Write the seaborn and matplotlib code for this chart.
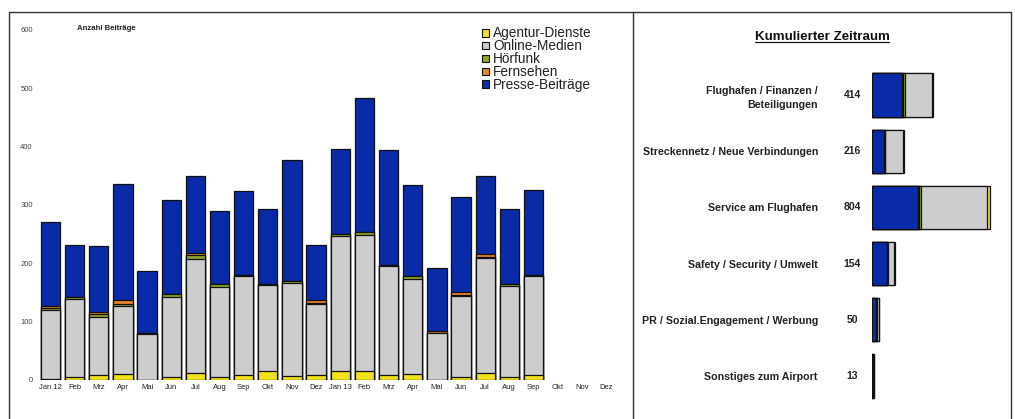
import numpy as np
import pandas as pd
import matplotlib
matplotlib.use("Agg")
import matplotlib.pyplot as plt
from matplotlib.patches import Patch
from matplotlib.lines import Line2D
import seaborn as sns

sns.set_theme(style="white")
plt.rcParams["font.family"] = ["Liberation Sans", "DejaVu Sans"]

# ---- monthly media coverage (Jan 2012 - Dez 2013) ----
month_keys = [f"{m} {y}" for y in (12, 13) for m in
              ["Jan", "Feb", "Mrz", "Apr", "Mai", "Jun", "Jul", "Aug", "Sep", "Okt", "Nov", "Dez"]]
month_labels = ["Jan 12", "Feb", "Mrz", "Apr", "Mai", "Jun", "Jul", "Aug", "Sep", "Okt", "Nov", "Dez",
                "Jan 13", "Feb", "Mrz", "Apr", "Mai", "Jun", "Jul", "Aug", "Sep", "Okt", "Nov", "Dez"]

agentur = [1, 5, 8, 10, 0, 4, 11, 4, 7, 15, 6, 8, 14, 14, 8, 10, 0, 5, 12, 5, 7]
online = [118, 133, 99, 116, 78, 138, 196, 155, 170, 147, 160, 121, 232, 234, 187, 163, 79, 139, 197, 155, 171]
hoerfunk = [4, 3, 5, 3, 2, 4, 6, 5, 2, 2, 3, 3, 4, 6, 1, 5, 1, 1, 2, 4, 2]
fernsehen = [3, 0, 4, 7, 0, 0, 4, 0, 0, 0, 0, 4, 0, 0, 0, 0, 4, 5, 4, 0, 0]
presse = [145, 90, 113, 200, 106, 163, 133, 126, 145, 129, 208, 95, 145, 229, 198, 156, 108, 164, 135, 128, 146]

# ---- cumulated period by topic ----
topics = ["Flughafen / Finanzen /\nBeteiligungen", "Streckennetz / Neue Verbindungen",
          "Service am Flughafen", "Safety / Security / Umwelt",
          "PR / Sozial.Engagement / Werbung", "Sonstiges zum Airport"]
topic_totals = [414, 216, 804, 154, 50, 13]
t_presse = [202, 84, 316, 100, 28, 8]
t_fernsehen = [12, 2, 6, 3, 1, 0]
t_hoerfunk = [14, 2, 9, 4, 2, 0]
t_online = [184, 126, 450, 45, 19, 5]
t_agentur = [2, 2, 23, 2, 0, 0]

series_names = ["Agentur-Dienste", "Online-Medien", "Hörfunk", "Fernsehen", "Presse-Beiträge"]
colors = {
    "Agentur-Dienste": "#f2e21c",
    "Online-Medien": "#cdcdcd",
    "Hörfunk": "#8aa52a",
    "Fernsehen": "#e9842c",
    "Presse-Beiträge": "#0a2aa8",
}

W, H = 1015, 419
fig = plt.figure(figsize=(W / 100, H / 100), dpi=100)
fig.patch.set_facecolor("white")


def fx(px):
    return px / W


def fy(py):
    return 1 - py / H


# ---------- left: stacked monthly columns ----------
ax = fig.add_axes([fx(38.4), fy(379.5), fx(579.6), 349.5 / H])
n = len(presse)
stack_bottom_up = [agentur, online, hoerfunk, fernsehen, presse]
cum = np.cumsum(np.array(stack_bottom_up, dtype=float), axis=0)
for k in range(len(series_names) - 1, -1, -1):
    df = pd.DataFrame({"monat": month_keys[:n], "wert": cum[k]})
    sns.barplot(data=df, x="monat", y="wert", order=month_keys, color=colors[series_names[k]],
                saturation=1, width=0.8, edgecolor="#111111", linewidth=0.9, ax=ax, errorbar=None)

ax.set_xlim(-0.5, len(month_keys) - 0.5)
ax.set_ylim(0, 600)
ax.set_yticks(np.arange(0, 601, 100))
ax.set_yticklabels([str(v) for v in range(0, 601, 100)], fontsize=5.5, color="#444444")
ax.set_xticks(range(len(month_keys)))
ax.set_xticklabels(month_labels, fontsize=5.5, color="#222222")
ax.tick_params(axis="both", length=0)
ax.tick_params(axis="y", pad=4)
ax.tick_params(axis="x", pad=3.5)
ax.set_xlabel("")
ax.set_ylabel("")
for s in ax.spines.values():
    s.set_visible(False)
ax.patch.set_alpha(0)

fig.text(fx(76.7), fy(28), "Anzahl Beiträge", fontsize=5.6, fontweight="bold",
         ha="left", va="center", color="#222222")

handles = [Patch(facecolor=colors[s], edgecolor="#111111", linewidth=0.8) for s in series_names]
leg = fig.legend(handles, series_names, loc="upper left", bbox_to_anchor=(fx(482), fy(26.5)),
                 frameon=False, fontsize=9.8, handlelength=0.5, handleheight=0.5,
                 handletextpad=0.3, labelspacing=-0.08, borderpad=0, borderaxespad=0)
for t in leg.get_texts():
    t.set_color("#222222")

# ---------- right: cumulated horizontal bars ----------
axr = fig.add_axes([fx(872), fy(404.1), fx(127.7), 337.2 / H])
tcum = np.cumsum(np.array([t_presse, t_fernsehen, t_hoerfunk, t_online, t_agentur], dtype=float), axis=0)
right_order = ["Presse-Beiträge", "Fernsehen", "Hörfunk", "Online-Medien", "Agentur-Dienste"]
for k in range(len(right_order) - 1, -1, -1):
    df = pd.DataFrame({"thema": topics, "wert": tcum[k]})
    sns.barplot(data=df, y="thema", x="wert", order=topics, orient="h", color=colors[right_order[k]],
                saturation=1, width=0.77, edgecolor="#111111", linewidth=0.9, ax=axr, errorbar=None)

axr.set_xlim(0, 870)
axr.set_ylim(len(topics) - 0.5, -0.5)
axr.set_xticks([])
axr.set_yticks(range(len(topics)))
axr.set_yticklabels(topics, fontsize=7.7, fontweight="bold", color="#222222", ha="right",
                    multialignment="right", linespacing=1.45)
axr.tick_params(axis="y", length=0, pad=38.9)
axr.set_xlabel("")
axr.set_ylabel("")
for s in axr.spines.values():
    s.set_visible(False)
axr.patch.set_alpha(0)

for i, tot in enumerate(topic_totals):
    axr.annotate(str(tot), xy=(0, i), xycoords=axr.get_yaxis_transform(),
                 xytext=(-20, 0), textcoords="offset pixels", ha="center", va="center",
                 fontsize=7.5, fontweight="bold", color="#222222")

title = fig.text(fx(822), fy(37.5), "Kumulierter Zeitraum", fontsize=9.6, fontweight="bold",
                 ha="center", va="center", color="#111111")

# ---------- panel frame ----------
frame_kw = dict(color="#333333", linewidth=1.0, transform=fig.transFigure)
fig.add_artist(Line2D([fx(9), fx(1011)], [fy(12), fy(12)], **frame_kw))
fig.add_artist(Line2D([fx(9), fx(9)], [fy(12), 0], **frame_kw))
fig.add_artist(Line2D([fx(633), fx(633)], [fy(12), 0], **frame_kw))
fig.add_artist(Line2D([fx(1011), fx(1011)], [fy(12), 0], **frame_kw))

# underline the panel title
fig.canvas.draw()
bb = title.get_window_extent(renderer=fig.canvas.get_renderer())
inv = fig.transFigure.inverted()
(x0, y0), (x1, _) = inv.transform([[bb.x0, bb.y0], [bb.x1, bb.y0]])
fig.add_artist(Line2D([x0, x1], [y0 + 0.003, y0 + 0.003], color="#111111", linewidth=0.9,
                      transform=fig.transFigure))

fig.savefig("out.png", dpi=100, facecolor="white")
